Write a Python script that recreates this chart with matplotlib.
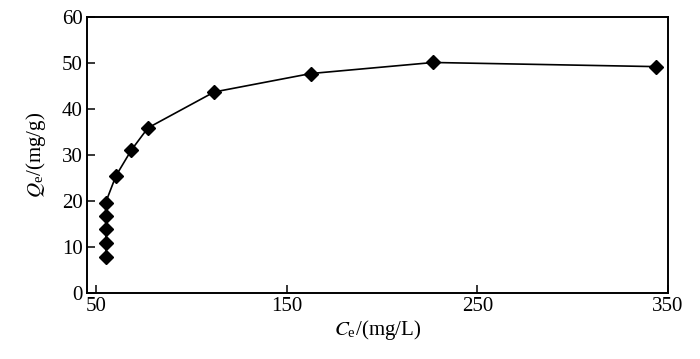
import matplotlib.pyplot as plt

plt.rcParams['font.family'] = 'Liberation Serif'
plt.rcParams['mathtext.fontset'] = 'stix'

# equilibrium concentration (mg/L) and adsorption capacity (mg/g)
ce = [55.1, 55.1, 55.0, 54.9, 54.9, 60.3, 68.4, 77.1, 111.9, 162.6, 226.9, 344.0]
qe = [7.9, 11.0, 13.9, 16.8, 19.7, 25.5, 31.1, 35.9, 43.7, 47.7, 50.1, 49.2]

x_ticks = [50, 150, 250, 350]
y_ticks = [0, 10, 20, 30, 40, 50, 60]

fig = plt.figure(figsize=(7, 3.59), dpi=100)
ax = fig.add_axes([0.124, 0.183, 0.830, 0.770])

ax.plot(ce, qe, color='black', lw=1.2, marker='D', ms=6.8,
        markerfacecolor='black', markeredgecolor='black')

ax.set_xlim(45, 350)
ax.set_ylim(0, 60)
ax.set_xticks(x_ticks)
ax.set_yticks(y_ticks)
ax.tick_params(direction='in', length=6, width=1.1, labelsize=15,
               top=False, right=False, pad=3)
for sp in ax.spines.values():
    sp.set_linewidth(1.4)

ax.set_xlabel(r'$C_{\mathregular{e}}$/(mg/L)', fontsize=15, labelpad=1)
ax.set_ylabel(r'$Q_{\mathregular{e}}$/(mg/g)', fontsize=15, labelpad=10)

fig.savefig('out.png', dpi=100)
